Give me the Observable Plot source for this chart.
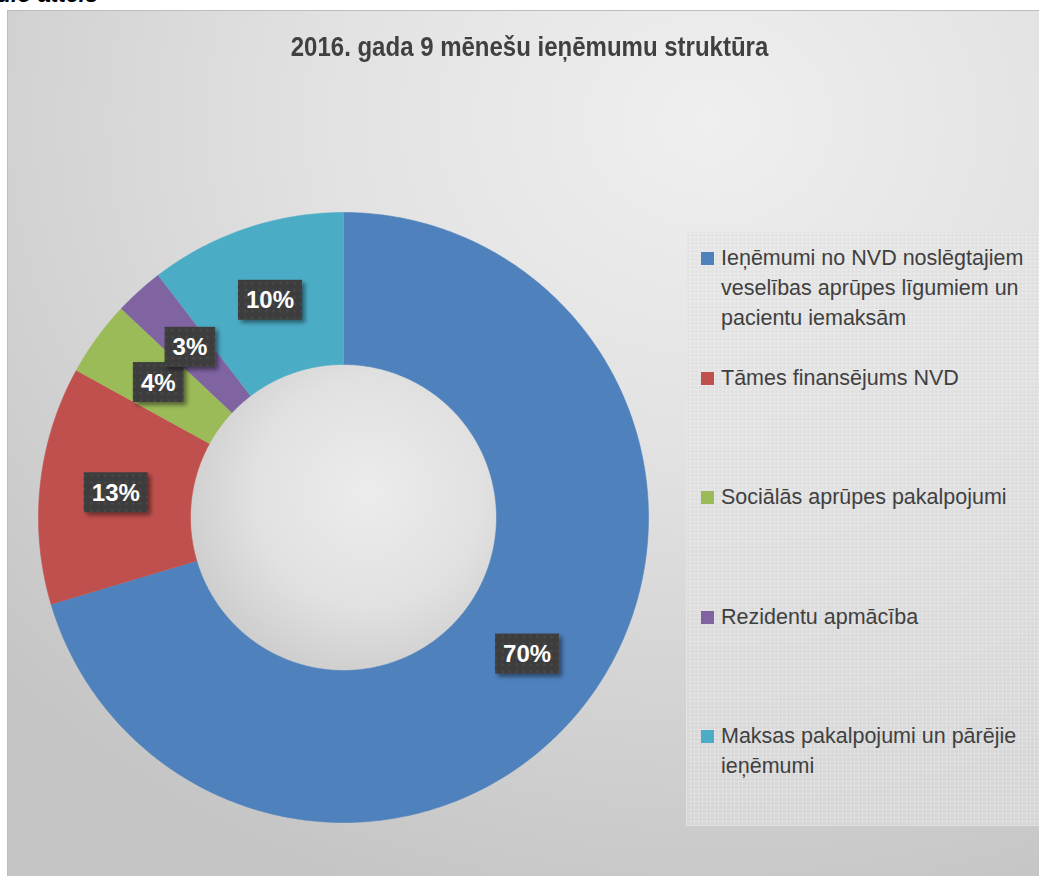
<!DOCTYPE html>
<html><head><meta charset="utf-8">
<script src="https://cdn.jsdelivr.net/npm/d3@7"></script>
<script src="https://cdn.jsdelivr.net/npm/@observablehq/plot@0.6"></script>
<style>
html,body{margin:0;padding:0;}
body{width:1039px;height:876px;overflow:hidden;position:relative;background:#fff;font-family:"Liberation Sans",Arial,sans-serif;}
#cut{position:absolute;left:-3px;top:-19px;font:bold italic 23px "Liberation Sans",Arial,sans-serif;color:#000;white-space:nowrap;}
#frame{position:absolute;left:7px;top:10px;width:1045px;height:880px;border:1px solid #bdbdbd;
  background:radial-gradient(ellipse 950px 820px at 700px 110px,#efefef 0%,#e2e2e2 40%,#c5c5c5 100%);}
#title{position:absolute;left:7px;width:1045px;top:33px;text-align:center;font:bold 24px "Liberation Sans",Arial,sans-serif;color:#404040;line-height:28px;transform:scaleY(1.12);transform-origin:50% 50%;}
#chartWrap{position:absolute;left:13px;top:187px;width:660px;height:660px;}
#legend{position:absolute;left:686px;top:232px;width:360px;height:594px;
  background:
   repeating-linear-gradient(0deg,rgba(255,255,255,0.22) 0 1px,transparent 1px 4px),
   repeating-linear-gradient(90deg,rgba(255,255,255,0.22) 0 1px,transparent 1px 4px),
   rgba(222,222,222,0.55);}
.item{position:absolute;left:0;width:350px;}
.sw{position:absolute;left:15px;top:9px;width:13px;height:13px;}
.lt{position:absolute;left:35px;top:0;width:318px;font-size:21.5px;line-height:30px;color:#404040;}
</style></head>
<body>
<svg width="0" height="0" style="position:absolute">
 <defs>
  <radialGradient id="hole" cx="0.58" cy="0.42" r="0.62">
   <stop offset="0" stop-color="#ececec"/>
   <stop offset="0.6" stop-color="#e1e1e1"/>
   <stop offset="1" stop-color="#cdcdcd"/>
  </radialGradient>
  <pattern id="dots" width="7" height="7" patternUnits="userSpaceOnUse">
   <rect width="7" height="7" fill="#3d3d3d"/>
   <circle cx="3.5" cy="3.5" r="1.3" fill="#494949"/>
  </pattern>
  <filter id="shadow" x="-30%" y="-30%" width="170%" height="170%">
   <feDropShadow dx="3" dy="3" stdDeviation="2.2" flood-color="#000" flood-opacity="0.45"/>
  </filter>
 </defs>
</svg>
<div id="cut">ulo attēls</div>
<div id="frame"></div>
<div id="title"></div>
<div id="chartWrap"></div>
<div id="legend"></div>
<script>
// ---- data ----
const title = "2016. gada 9 mēnešu ieņēmumu struktūra";
const categories = [
  "Ieņēmumi no NVD noslēgtajiem veselības aprūpes līgumiem un pacientu iemaksām",
  "Tāmes finansējums NVD",
  "Sociālās aprūpes pakalpojumi",
  "Rezidentu apmācība",
  "Maksas pakalpojumi un pārējie ieņēmumi"
];
const shares = [70.4, 12.6, 4.0, 2.6, 10.4];
const colors = ["#4F81BD", "#C0504D", "#9BBB59", "#8064A2", "#4BACC6"];

document.getElementById("title").textContent = title;

// ---- geometry (pixel units of the x/y scales) ----
const R = 305, r = 153;
const total = d3.sum(shares);
let acc = 0;
const slices = categories.map((name, i) => {
  const a0 = acc / total * 2 * Math.PI;
  acc += shares[i];
  const a1 = acc / total * 2 * Math.PI;
  return {name, value: shares[i], a0, a1};
});
const poly = [];
for (const s of slices) {
  const n = Math.max(4, Math.ceil((s.a1 - s.a0) / (Math.PI / 360)));
  for (let k = 0; k <= n; k++) {
    const a = s.a0 + (s.a1 - s.a0) * k / n;
    poly.push({name: s.name, x: R * Math.sin(a), y: R * Math.cos(a)});
  }
  for (let k = n; k >= 0; k--) {
    const a = s.a0 + (s.a1 - s.a0) * k / n;
    poly.push({name: s.name, x: r * Math.sin(a), y: r * Math.cos(a)});
  }
}
const labels = slices.map(s => {
  const a = (s.a0 + s.a1) / 2, m = (R + r) / 2;
  return {name: s.name, text: Math.round(s.value) + "%", x: m * Math.sin(a), y: m * Math.cos(a)};
});

const chart = Plot.plot({
  width: 660, height: 660, margin: 0,
  style: {background: "transparent", overflow: "visible"},
  x: {domain: [-330, 330], axis: null},
  y: {domain: [-330, 330], axis: null},
  color: {domain: categories, range: colors},
  marks: [
    Plot.dot([{x: 0, y: 0}], {x: "x", y: "y", r: r - 0.5, fill: "url(#hole)", stroke: "none"}),
    Plot.line(poly, {x: "x", y: "y", z: "name", fill: "name", stroke: "name", strokeWidth: 0.6, curve: "linear"}),
    Plot.text(labels, {x: "x", y: "y", text: "text", fill: "white", fontWeight: "bold", fontSize: 24,
      fontFamily: "Liberation Sans, Arial, sans-serif"})
  ]
});
document.getElementById("chartWrap").append(chart);

// label boxes behind the texts
const NS = "http://www.w3.org/2000/svg";
chart.querySelectorAll('g[aria-label="text"] text').forEach(t => {
  const b = t.getBBox();
  const rect = document.createElementNS(NS, "rect");
  const w = b.width + 16, h = 40, cy = b.y + b.height / 2;
  rect.setAttribute("x", b.x - 8);
  rect.setAttribute("y", cy - h / 2);
  rect.setAttribute("width", w);
  rect.setAttribute("height", h);
  rect.setAttribute("fill", "url(#dots)");
  rect.setAttribute("stroke", "none");
  rect.setAttribute("filter", "url(#shadow)");
  if (t.getAttribute("transform")) rect.setAttribute("transform", t.getAttribute("transform"));
  t.parentNode.insertBefore(rect, t);
});

// legend
const legend = document.getElementById("legend");
categories.forEach((c, i) => {
  const item = document.createElement("div");
  item.className = "item";
  item.style.top = (11 + i * 119.5) + "px";
  const sw = document.createElement("div");
  sw.className = "sw"; sw.style.background = colors[i];
  const lt = document.createElement("div");
  lt.className = "lt"; lt.textContent = c;
  item.append(sw, lt);
  legend.append(item);
});
</script>
</body></html>
